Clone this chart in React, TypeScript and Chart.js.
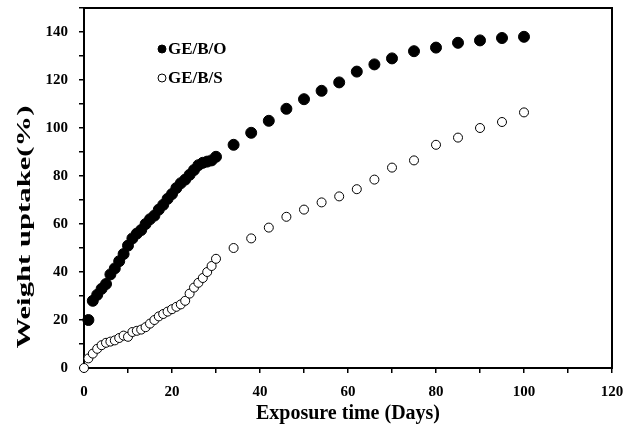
import React, { useEffect, useRef } from "react";
import { Chart, registerables } from "chart.js";

Chart.register(...registerables);

const seriesNames = ["GE/B/O", "GE/B/S"];

const oDays = [1, 2, 3, 4, 5, 6, 7, 8, 9, 10, 11, 12, 13, 14, 15, 16, 17, 18, 19, 20, 21, 22, 23, 24, 25, 26, 27, 28, 29, 30, 34, 38, 42, 46, 50, 54, 58, 62, 66, 70, 75, 80, 85, 90, 95, 100];
const oUptake = [20, 28, 30.5, 33, 35, 39, 41.5, 44.5, 47.5, 51, 54, 56, 57.5, 60, 62, 63.5, 66, 68, 70.5, 72.5, 75, 77, 78.5, 80.5, 82.5, 84.5, 85.5, 86, 86.5, 88, 93, 98, 103, 108, 112, 115.5, 119, 123.5, 126.5, 129, 132, 133.5, 135.5, 136.5, 137.5, 138];

const sDays = [0, 1, 2, 3, 4, 5, 6, 7, 8, 9, 10, 11, 12, 13, 14, 15, 16, 17, 18, 19, 20, 21, 22, 23, 24, 25, 26, 27, 28, 29, 30, 34, 38, 42, 46, 50, 54, 58, 62, 66, 70, 75, 80, 85, 90, 95, 100];
const sUptake = [0, 4, 6, 8, 9.5, 10.5, 11, 11.5, 12.5, 13.5, 13, 15, 15.5, 16, 17, 18.5, 20, 21.5, 22.5, 23.5, 24.5, 25.5, 26.5, 28, 31, 33.5, 35.5, 37.5, 40, 42.5, 45.5, 50, 54, 58.5, 63, 66, 69, 71.5, 74.5, 78.5, 83.5, 86.5, 93, 96, 100, 102.5, 106.5];

const xRange = [0, 120];
const xStep = 10;
const xLabelEvery = 20;
const yRange = [0, 150];
const yStep = 10;
const yLabelEvery = 20;
const yLabelMax = 140;

const xTitle = "Exposure time (Days)";
const yTitle = "Weight uptake(%)";

const FONT = '"Liberation Serif", "Times New Roman", serif';

const boxPlugin = {
  id: "boxPlugin",
  beforeDatasetsDraw(chart: any) {
    const { ctx, chartArea } = chart;
    ctx.save();
    ctx.strokeStyle = "#000";
    ctx.lineWidth = 2;
    ctx.strokeRect(chartArea.left, chartArea.top, chartArea.right - chartArea.left, chartArea.bottom - chartArea.top);
    ctx.restore();
  },
};

const yTitlePlugin = {
  id: "yTitlePlugin",
  afterDraw(chart: any) {
    const { ctx, chartArea } = chart;
    ctx.save();
    ctx.translate(25, chartArea.top + 219);
    ctx.rotate(-Math.PI / 2);
    ctx.font = `bold 19px ${FONT}`;
    const w = ctx.measureText(yTitle).width;
    ctx.scale(243 / w, 1);
    ctx.fillStyle = "#000";
    ctx.textAlign = "center";
    ctx.textBaseline = "middle";
    ctx.fillText(yTitle, 0, 0);
    ctx.restore();
  },
};

const legendPlugin = {
  id: "legendPlugin",
  afterDraw(chart: any) {
    const { ctx, chartArea } = chart;
    const mx = chartArea.left + 78;
    const rows = [chartArea.top + 41, chartArea.top + 70];
    ctx.save();
    ctx.font = `bold 17px ${FONT}`;
    ctx.textAlign = "left";
    ctx.textBaseline = "middle";
    chart.data.datasets.forEach((ds: any, i: number) => {
      const y = rows[i];
      ctx.beginPath();
      ctx.arc(mx, y, 4, 0, Math.PI * 2);
      ctx.fillStyle = ds.pointBackgroundColor;
      ctx.fill();
      ctx.lineWidth = 1;
      ctx.strokeStyle = "#000";
      ctx.stroke();
      ctx.fillStyle = "#000";
      ctx.fillText(ds.label, mx + 6, y + 1);
    });
    ctx.restore();
  },
};

export default function App() {
  const ref = useRef<HTMLCanvasElement>(null);

  useEffect(() => {
    if (!ref.current) return;
    const chart = new Chart(ref.current, {
      type: "scatter",
      data: {
        datasets: [
          {
            label: seriesNames[0],
            data: oDays.map((d, i) => ({ x: d, y: oUptake[i] })),
            pointBackgroundColor: "#000",
            pointBorderColor: "#000",
            pointBorderWidth: 1,
            pointRadius: 5.5,
            showLine: false,
            clip: false,
          },
          {
            label: seriesNames[1],
            data: sDays.map((d, i) => ({ x: d, y: sUptake[i] })),
            pointBackgroundColor: "#fff",
            pointBorderColor: "#000",
            pointBorderWidth: 1,
            pointRadius: 4.5,
            showLine: false,
            clip: false,
          },
        ],
      },
      options: {
        responsive: false,
        animation: false,
        layout: { padding: { left: 0, right: 26, top: 8, bottom: 0 } },
        plugins: { legend: { display: false }, tooltip: { enabled: false } },
        scales: {
          x: {
            type: "linear",
            min: xRange[0],
            max: xRange[1],
            afterFit: (s: any) => {
              s.height = 64;
              s.paddingLeft = 0;
              s.paddingRight = 0;
            },
            ticks: {
              stepSize: xStep,
              autoSkip: false,
              maxRotation: 0,
              padding: 10,
              color: "#000",
              font: { family: FONT, size: 15, weight: "bold" },
              callback: (v: any) => (Number(v) % xLabelEvery === 0 ? String(v) : ""),
            },
            grid: { display: true, drawOnChartArea: false, drawTicks: true, tickLength: 5, color: "#000", lineWidth: 1.5 },
            border: { display: false },
            title: {
              display: true,
              text: xTitle,
              color: "#000",
              font: { family: FONT, size: 20, weight: "bold" },
              padding: { top: 0, bottom: 6 },
            },
          },
          y: {
            type: "linear",
            min: yRange[0],
            max: yRange[1],
            afterFit: (s: any) => {
              s.width = 84;
              s.paddingTop = 0;
              s.paddingBottom = 0;
            },
            ticks: {
              stepSize: yStep,
              autoSkip: false,
              padding: 11,
              color: "#000",
              font: { family: FONT, size: 15, weight: "bold" },
              callback: (v: any) => (Number(v) % yLabelEvery === 0 && Number(v) <= yLabelMax ? String(v) : ""),
            },
            grid: { display: true, drawOnChartArea: false, drawTicks: true, tickLength: 5, color: "#000", lineWidth: 1.5 },
            border: { display: false },
          },
        },
      },
      plugins: [boxPlugin, yTitlePlugin, legendPlugin],
    } as any);
    return () => chart.destroy();
  }, []);

  return (
    <div style={{ position: "fixed", left: 0, top: 0, width: 638, height: 432, background: "#fff" }}>
      <canvas ref={ref} width={638} height={432} style={{ width: 638, height: 432, display: "block" }} />
    </div>
  );
}
